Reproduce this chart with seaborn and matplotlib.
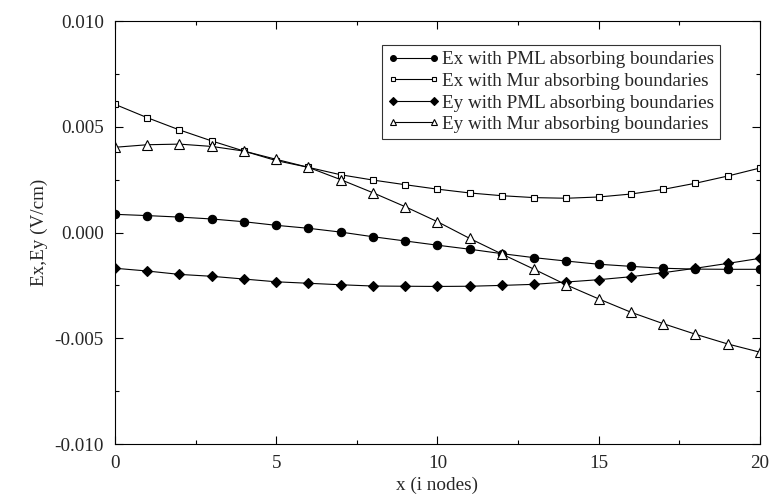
import numpy as np
import pandas as pd
import seaborn as sns
import matplotlib.pyplot as plt
from matplotlib.ticker import MultipleLocator, FormatStrFormatter

sns.set_theme(style="ticks")
plt.rcParams['font.family'] = ['Liberation Serif', 'DejaVu Serif']
plt.rcParams['axes.unicode_minus'] = False

nodes = list(range(21))

ex_pml = [0.00086, 0.00080, 0.00073, 0.00064, 0.00051, 0.00034, 0.00020, 0.00002,
          -0.00020, -0.00040, -0.00060, -0.00079, -0.00100, -0.00119, -0.00135,
          -0.00150, -0.00160, -0.00169, -0.00173, -0.00174, -0.00174]
ex_mur = [0.00606, 0.00543, 0.00485, 0.00433, 0.00385, 0.00340, 0.00308, 0.00273,
          0.00248, 0.00226, 0.00205, 0.00187, 0.00174, 0.00165, 0.00162,
          0.00168, 0.00182, 0.00204, 0.00233, 0.00267, 0.00305]
ey_pml = [-0.00169, -0.00182, -0.00198, -0.00207, -0.00220, -0.00233, -0.00240,
          -0.00247, -0.00253, -0.00254, -0.00255, -0.00254, -0.00250, -0.00245,
          -0.00234, -0.00223, -0.00209, -0.00190, -0.00169, -0.00146, -0.00122]
ey_mur = [0.00403, 0.00415, 0.00418, 0.00407, 0.00385, 0.00346, 0.00308, 0.00250,
          0.00188, 0.00122, 0.00051, -0.00028, -0.00102, -0.00174, -0.00248,
          -0.00314, -0.00377, -0.00431, -0.00481, -0.00527, -0.00566]

labels = ["Ex with PML absorbing boundaries",
          "Ex with Mur absorbing boundaries",
          "Ey with PML absorbing boundaries",
          "Ey with Mur absorbing boundaries"]

# marker, size, face colour
styles = [("o", 6, "black"), ("s", 5, "white"), ("D", 5.5, "black"), ("^", 7, "white")]

fig = plt.figure(figsize=(7.69, 4.98), dpi=100)
ax = fig.add_axes([0.1495, 0.1084, 0.8388, 0.8494])

for vals, lab, (m, ms, fc) in zip([ex_pml, ex_mur, ey_pml, ey_mur], labels, styles):
    df = pd.DataFrame({"x": nodes, "y": vals})
    sns.lineplot(data=df, x="x", y="y", ax=ax, color="black", linewidth=0.8,
                 marker=m, markersize=ms, markerfacecolor=fc,
                 markeredgecolor="black", markeredgewidth=0.8, label=lab)

ax.set_xlim(0, 20)
ax.set_ylim(-0.010, 0.010)
ax.xaxis.set_major_locator(MultipleLocator(5))
ax.xaxis.set_minor_locator(MultipleLocator(2.5))
ax.yaxis.set_major_locator(MultipleLocator(0.005))
ax.yaxis.set_minor_locator(MultipleLocator(0.0025))
ax.yaxis.set_major_formatter(FormatStrFormatter("%.3f"))
ax.tick_params(which="both", direction="in", top=True, right=True,
               color="black", labelsize=13.8, width=0.8)
ax.tick_params(which="major", length=6, pad=8)
ax.tick_params(which="minor", length=3)
for s in ax.spines.values():
    s.set_linewidth(0.8)
    s.set_color("black")

ax.set_xlabel("x (i nodes)", fontsize=13.8, labelpad=3)
ax.set_ylabel("Ex,Ey (V/cm)", fontsize=13.8, labelpad=5)

leg = ax.legend(loc="upper right", bbox_to_anchor=(0.938, 0.943), fontsize=13.8,
                numpoints=2, markerscale=0.7, handlelength=2.7, handletextpad=0.15,
                labelspacing=0.22, borderpad=0.3, fancybox=False, frameon=True,
                borderaxespad=0)
leg.get_frame().set_edgecolor("black")
leg.get_frame().set_linewidth(0.8)

fig.savefig("out.png", dpi=100)
